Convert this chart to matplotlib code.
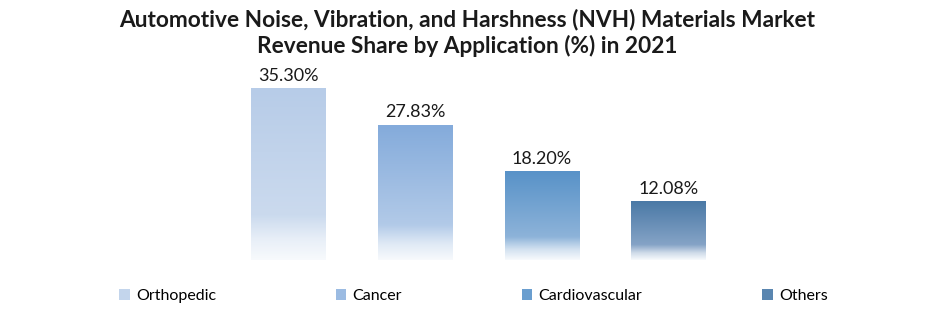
import numpy as np
import matplotlib
matplotlib.use("Agg")
import matplotlib.pyplot as plt
from matplotlib.colors import to_rgb
from matplotlib.patches import Patch

# Revenue share by application (%), 2021
categories = ["Orthopedic", "Cancer", "Cardiovascular", "Others"]
shares = [35.30, 27.83, 18.20, 12.08]

# top colour and lower colour of each bar's gradient fill
top_colors = ["#b7cce8", "#84abdb", "#5892c8", "#4a79a6"]
low_colors = ["#cbdaee", "#b2cae8", "#8db3d9", "#85a3c6"]
legend_colors = ["#c3d5ec", "#9bbbe2", "#6a9ecf", "#5a86b0"]

plt.rcParams["font.family"] = ["Lato", "DejaVu Sans"]


def gradient_image(top, low, n=200):
    """Vertical fill: top colour, easing to a lighter tone, then fading to white."""
    white = np.array([0.97, 0.98, 0.99])
    top, low = np.array(to_rgb(top)), np.array(to_rgb(low))
    mid = low * 0.35 + white * 0.65
    stops = [(0.0, top), (0.74, low), (0.88, mid), (1.0, white)]
    t = np.linspace(0, 1, n)
    rows = np.zeros((n, 3))
    for ch in range(3):
        rows[:, ch] = np.interp(t, [s[0] for s in stops], [s[1][ch] for s in stops])
    return rows[:, None, :]


fig = plt.figure(figsize=(9.35, 3.27), dpi=100)
ax = fig.add_axes([225.2 / 935, 1 - 260 / 327, 506.7 / 935, 193.8 / 327])

x = np.arange(len(categories))
width = 0.59
bars = ax.bar(x, shares, width=width, color="none", edgecolor="none")

for bar, val, top, low in zip(bars, shares, top_colors, low_colors):
    x0 = bar.get_x()
    ax.imshow(gradient_image(top, low), extent=(x0, x0 + width, 0, val),
              aspect="auto", origin="upper", zorder=2, interpolation="bilinear")
    ax.text(bar.get_x() + width / 2, val + 1.0, f"{val:.2f}%",
            ha="center", va="bottom", fontsize=13, color="#1a1a1a")

ax.set_xlim(-0.5, 3.5)
ax.set_ylim(0, 40)
ax.axis("off")

fig.text(0.5, 1 - 19 / 327, "Automotive Noise, Vibration, and Harshness (NVH) Materials Market",
         ha="center", va="center", fontsize=16.3, fontweight="bold", color="#1a1a1a")
fig.text(0.5, 1 - 46 / 327, "Revenue Share by Application (%) in 2021",
         ha="center", va="center", fontsize=16.3, fontweight="bold", color="#1a1a1a")

handles = [Patch(facecolor=c, edgecolor="none") for c in legend_colors]
fig.legend(handles, categories, loc="center", bbox_to_anchor=(0.5 + 6 / 935, 1 - 296 / 327),
           ncol=4, frameon=False, fontsize=11.5, handlelength=0.65, handleheight=0.65,
           handletextpad=0.4, columnspacing=7.5)

plt.savefig("out.png", dpi=100)
plt.close()
